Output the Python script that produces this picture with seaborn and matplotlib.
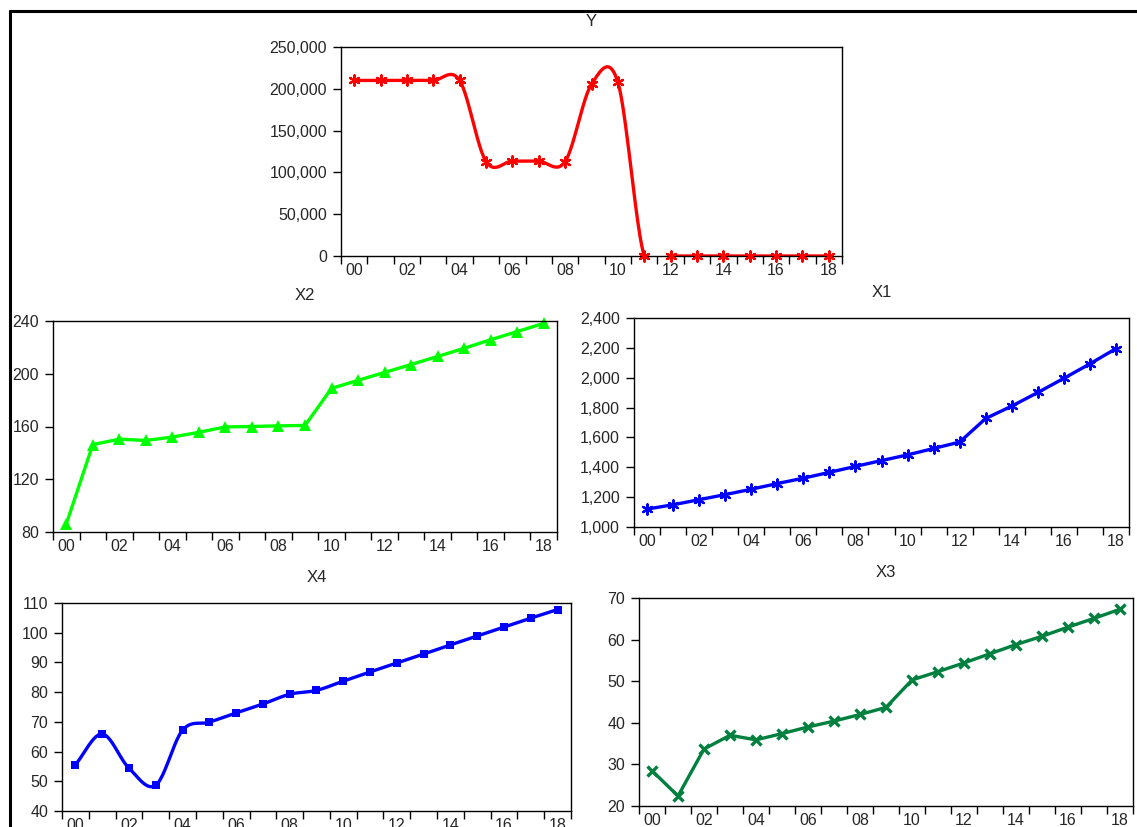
import numpy as np
import matplotlib
matplotlib.use("Agg")
import matplotlib.pyplot as plt
from matplotlib.lines import Line2D
from matplotlib.ticker import FixedLocator, FuncFormatter
import seaborn as sns

years = list(range(2000, 2019))

y_vals = [210000, 210000, 210000, 210000, 210000, 113000, 113500, 113500, 113000,
          205500, 207800, 0, 0, 0, 0, 0, 0, 0, 0]
x1_vals = [1120, 1149, 1183, 1217, 1253, 1291, 1327, 1366, 1406, 1445,
           1483, 1526, 1569, 1727, 1810, 1901, 1996, 2093, 2195]
x2_vals = [86, 146.3, 150.4, 149.4, 152, 155.6, 159.7, 160, 160.5, 160.8,
           188.9, 195, 201, 207, 213.1, 219.3, 225.8, 232, 238.2]
x3_vals = [28.5, 22.4, 33.7, 37, 35.9, 37.4, 39, 40.4, 42, 43.7,
           50.3, 52.3, 54.4, 56.6, 58.8, 60.8, 63, 65.1, 67.3]
x4_vals = [55.6, 65.9, 54.4, 48.7, 67.2, 69.9, 73, 76, 79.3, 80.6,
           83.7, 86.8, 89.8, 92.8, 95.9, 98.9, 101.9, 104.9, 107.8]


def catmull_rom(x, y, n=24):
    # smooth line through the points, like the EViews spline option
    x = np.asarray(x, float)
    y = np.asarray(y, float)
    m = np.empty_like(y)
    m[1:-1] = (y[2:] - y[:-2]) / 2
    m[0] = y[1] - y[0]
    m[-1] = y[-1] - y[-2]
    xs, ys = [], []
    for i in range(len(x) - 1):
        t = np.linspace(0, 1, n, endpoint=False)
        h00 = 2 * t**3 - 3 * t**2 + 1
        h10 = t**3 - 2 * t**2 + t
        h01 = -2 * t**3 + 3 * t**2
        h11 = t**3 - t**2
        xs.append(x[i] + t * (x[i + 1] - x[i]))
        ys.append(h00 * y[i] + h10 * m[i] + h01 * y[i + 1] + h11 * m[i + 1])
    xs.append([x[-1]])
    ys.append([y[-1]])
    return np.concatenate(xs), np.concatenate(ys)


sns.set_style("ticks")
plt.rcParams['font.family'] = ['Liberation Sans', 'DejaVu Sans']

fig = plt.figure(figsize=(11.37, 8.27), dpi=100)
W, H = 1137, 827


def make_axes(left, top, right, bottom):
    return fig.add_axes([left / W, 1 - bottom / H, (right - left) / W, (bottom - top) / H])


def style_axes(ax, title, ylim, yticks, fmt):
    ax.set_xlim(1999.5, 2018.5)
    ax.set_ylim(*ylim)
    ax.set_xticks(years[::2])
    ax.set_xticklabels([f"{yr % 100:02d}" for yr in years[::2]])
    ax.xaxis.set_minor_locator(FixedLocator(np.arange(1999.5, 2019, 1)))
    ax.tick_params(axis='x', which='major', length=0, pad=5, labelsize=11.5)
    ax.tick_params(axis='x', which='minor', length=6, width=1, direction='out', color='black')
    ax.set_yticks(yticks)
    ax.yaxis.set_major_formatter(FuncFormatter(fmt))
    ax.tick_params(axis='y', length=6, width=1, direction='out', pad=4, labelsize=11.5, color='black')
    for s in ax.spines.values():
        s.set_visible(True)
        s.set_color('black')
        s.set_linewidth(1.0)
    ax.set_xlabel('')
    ax.set_ylabel('')
    ax.set_title(title, fontsize=12, pad=15)


comma = lambda v, p: f"{v:,.0f}"
plain = lambda v, p: f"{v:.0f}"

# Y (spline)
ax_y = make_axes(341, 47, 842, 256)
sx, sy = catmull_rom(years, y_vals)
sns.lineplot(x=sx, y=sy, ax=ax_y, color='red', linewidth=2.4, sort=False)
sns.scatterplot(x=years, y=y_vals, ax=ax_y, color='red', marker=(6, 2, 0), s=55,
                linewidth=1.6, edgecolor='red', zorder=3, clip_on=False)
style_axes(ax_y, 'Y', (0, 250000), range(0, 250001, 50000), comma)

# X2
ax_x2 = make_axes(53, 321, 557, 532)
sns.lineplot(x=years, y=x2_vals, ax=ax_x2, color='#00ff00', linewidth=2.4,
             marker='^', markersize=8, markeredgewidth=0, clip_on=False)
style_axes(ax_x2, 'X2', (80, 240), range(80, 241, 40), plain)

# X1
ax_x1 = make_axes(634, 318, 1129, 527)
sns.lineplot(x=years, y=x1_vals, ax=ax_x1, color='blue', linewidth=2.4)
sns.scatterplot(x=years, y=x1_vals, ax=ax_x1, color='blue', marker=(6, 2, 0), s=55,
                linewidth=1.6, edgecolor='blue', zorder=3, clip_on=False)
style_axes(ax_x1, 'X1', (1000, 2400), range(1000, 2401, 200), comma)

# X4 (spline)
ax_x4 = make_axes(62, 603, 571, 811)
sx, sy = catmull_rom(years, x4_vals)
sns.lineplot(x=sx, y=sy, ax=ax_x4, color='blue', linewidth=2.4, sort=False)
sns.scatterplot(x=years, y=x4_vals, ax=ax_x4, color='blue', marker='s', s=40,
                linewidth=0, zorder=3, clip_on=False)
style_axes(ax_x4, 'X4', (40, 110), range(40, 111, 10), plain)

# X3
ax_x3 = make_axes(639, 598, 1133, 806)
sns.lineplot(x=years, y=x3_vals, ax=ax_x3, color='#00803f', linewidth=2.4,
             marker='x', markersize=7, markeredgewidth=2.4,
             markeredgecolor='#00803f', clip_on=False)
style_axes(ax_x3, 'X3', (20, 70), range(20, 71, 10), plain)

# outer frame lines
fig.add_artist(Line2D([10 / W, 1.0], [1 - 11 / H, 1 - 11 / H], color='black', linewidth=2.2))
fig.add_artist(Line2D([10 / W, 10 / W], [1 - 11 / H, 0.0], color='black', linewidth=2.2))

fig.savefig('out.png', dpi=100)
